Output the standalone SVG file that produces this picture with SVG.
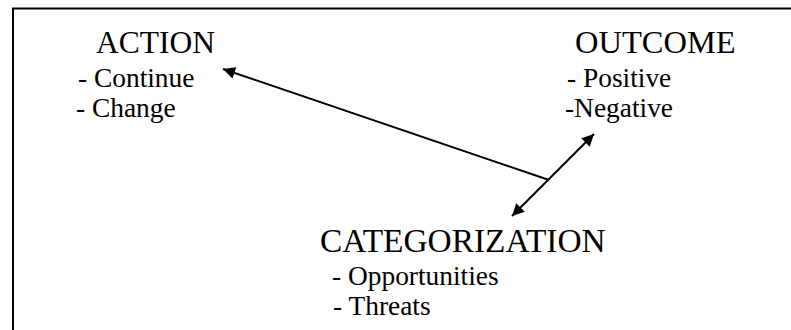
<svg xmlns="http://www.w3.org/2000/svg" width="791" height="330" viewBox="0 0 791 330">
<style>
.h{font-family:"Liberation Serif","Times New Roman",serif;font-size:31.5px;fill:#000}
.s{font-family:"Liberation Serif","Times New Roman",serif;font-size:27.4px;fill:#000}
.c{stroke:#000;stroke-width:2;fill:none}
</style>
<defs>
<marker id="ah2" viewBox="0 0 10 10" refX="10" refY="5" markerWidth="16" markerHeight="12" markerUnits="userSpaceOnUse" orient="auto-start-reverse">
<path d="M0,0 L10,5 L0,10 z" fill="#000"/>
</marker>
</defs>
<rect width="791" height="330" fill="#fff"/>
<path d="M13,331 V8.5 H792" stroke="#000" stroke-width="2" fill="none"/>
<g id="action">
<text class="h" x="96" y="53">ACTION</text>
<text class="s" x="78" y="87">- Continue</text>
<text class="s" x="76" y="117">- Change</text>
</g>
<g id="outcome">
<text class="h" x="575" y="53" style="font-size:32.5px">OUTCOME</text>
<text class="s" x="567" y="87">- Positive</text>
<text class="s" x="565" y="117">-Negative</text>
</g>
<g id="categorization">
<text class="h" x="320" y="252" style="font-size:33.4px">CATEGORIZATION</text>
<text class="s" x="332" y="285">- Opportunities</text>
<text class="s" x="333" y="315">- Threats</text>
</g>
<g id="connectors">
<line class="c" x1="549" y1="180" x2="223" y2="69" marker-end="url(#ah2)"/>
<line class="c" x1="512" y1="216" x2="594" y2="134" marker-start="url(#ah2)" marker-end="url(#ah2)"/>
</g>
</svg>
